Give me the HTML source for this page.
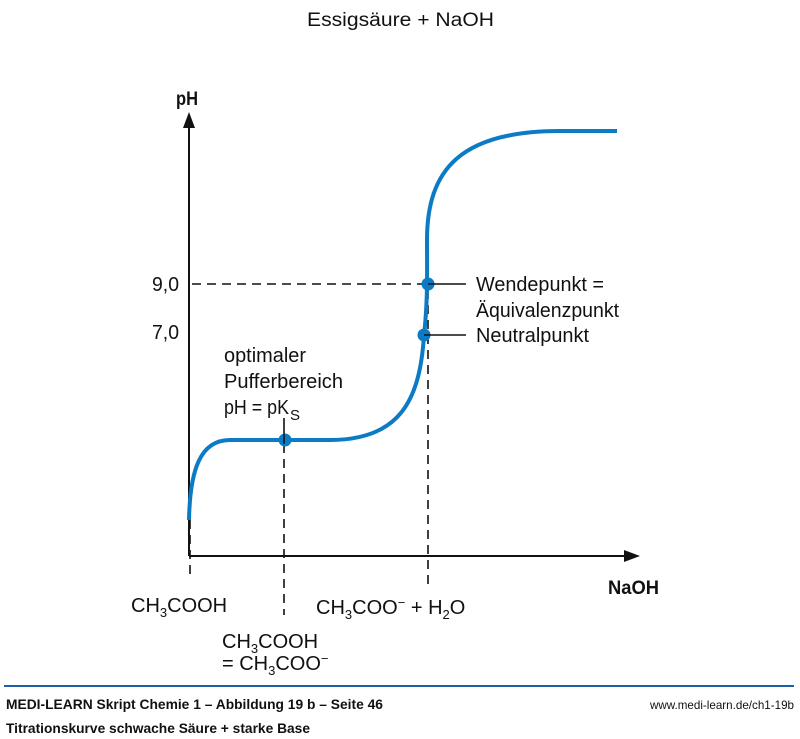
<!DOCTYPE html>
<html><head><meta charset="utf-8"><style>
html,body{margin:0;padding:0;background:#fff;}
svg{display:block;}
.n{font-family:"Liberation Sans Narrow","Liberation Sans",sans-serif;}
.a{font-family:"Liberation Sans",sans-serif;}
</style></head><body>
<svg width="800" height="739" viewBox="0 0 800 739" xmlns="http://www.w3.org/2000/svg">
<text class="n" x="307" y="26" font-size="19" fill="#111" textLength="187" lengthAdjust="spacingAndGlyphs">Essigsäure + NaOH</text>
<line x1="189" y1="556" x2="189" y2="125" stroke="#111" stroke-width="2"/>
<polygon points="189,112 183,128 195,128" fill="#111"/>
<line x1="189" y1="556" x2="626" y2="556" stroke="#111" stroke-width="2"/>
<polygon points="640,556 624,550 624,562" fill="#111"/>
<text class="n" x="176" y="105" font-size="19" font-weight="bold" fill="#111" textLength="22" lengthAdjust="spacingAndGlyphs">pH</text>
<text class="n" x="608" y="594" font-size="19" font-weight="bold" fill="#111" textLength="51" lengthAdjust="spacingAndGlyphs">NaOH</text>
<g stroke="#111" stroke-width="1.6" stroke-dasharray="9,6" fill="none">
<line x1="192" y1="284" x2="428" y2="284"/>
<line x1="190" y1="520" x2="190" y2="580"/>
<line x1="284" y1="444" x2="284" y2="615"/>
<line x1="428" y1="290" x2="428" y2="590"/>
</g>
<path d="M189,520 C190,470 200,440 230,440 L330,440 C400,440 420,400 424,335 C428,300 427,270 427,240 C427,170 460,131 560,131 L617,131" fill="none" stroke="#0a7bc4" stroke-width="4"/>
<g fill="#0a7bc4"><circle cx="285" cy="440" r="6.5"/><circle cx="428" cy="284" r="6.5"/><circle cx="424" cy="335" r="6.5"/></g>
<g stroke="#111" stroke-width="1.6">
<line x1="428" y1="284" x2="466" y2="284"/>
<line x1="424" y1="335" x2="466" y2="335"/>
<line x1="284" y1="418" x2="284" y2="444"/>
</g>
<g class="n" font-size="20" fill="#111">
<text x="152" y="291" textLength="27" lengthAdjust="spacingAndGlyphs">9,0</text>
<text x="152" y="339" textLength="27" lengthAdjust="spacingAndGlyphs">7,0</text>
<text x="476" y="291" textLength="128" lengthAdjust="spacingAndGlyphs">Wendepunkt =</text>
<text x="476" y="317" textLength="143" lengthAdjust="spacingAndGlyphs">Äquivalenzpunkt</text>
<text x="476" y="342" textLength="113" lengthAdjust="spacingAndGlyphs">Neutralpunkt</text>
<text x="224" y="362" textLength="82" lengthAdjust="spacingAndGlyphs">optimaler</text>
<text x="224" y="388" textLength="119" lengthAdjust="spacingAndGlyphs">Pufferbereich</text>
<text x="224" y="414" textLength="65" lengthAdjust="spacingAndGlyphs">pH = pK</text>
<text x="290" y="420" font-size="15">S</text>
</g>
<g class="a" font-size="20" fill="#111">
<text x="131" y="612">CH<tspan font-size="13" dy="5">3</tspan><tspan dy="-5">COOH</tspan></text>
<text x="316" y="614">CH<tspan font-size="13" dy="5">3</tspan><tspan dy="-5">COO</tspan><tspan font-size="13" dy="-7">−</tspan><tspan dy="7"> + H</tspan><tspan font-size="13" dy="5">2</tspan><tspan dy="-5">O</tspan></text>
<text x="222" y="648">CH<tspan font-size="13" dy="5">3</tspan><tspan dy="-5">COOH</tspan></text>
<text x="222" y="670">= CH<tspan font-size="13" dy="5">3</tspan><tspan dy="-5">COO</tspan><tspan font-size="13" dy="-7">−</tspan></text>
</g>
<line x1="4" y1="686" x2="794" y2="686" stroke="#1a5fa8" stroke-width="2"/>
<text class="n" x="6" y="709" font-size="14" font-weight="bold" fill="#111" textLength="377" lengthAdjust="spacingAndGlyphs">MEDI-LEARN Skript Chemie 1 – Abbildung 19 b – Seite 46</text>
<text class="n" x="6" y="733" font-size="14" font-weight="bold" fill="#111" textLength="304" lengthAdjust="spacingAndGlyphs">Titrationskurve schwache Säure + starke Base</text>
<text class="n" x="650" y="709" font-size="12" fill="#111" textLength="144" lengthAdjust="spacingAndGlyphs">www.medi-learn.de/ch1-19b</text>
</svg>
</body></html>
